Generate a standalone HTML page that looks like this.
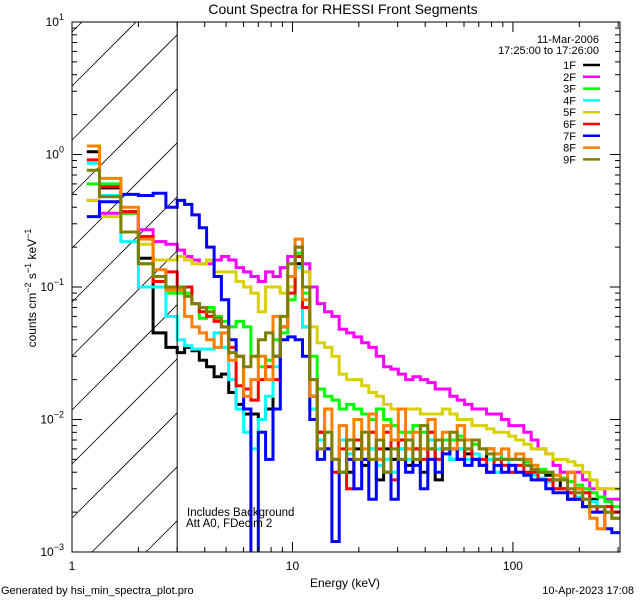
<!DOCTYPE html>
<html><head><meta charset="utf-8"><style>
html,body{margin:0;padding:0;background:#fff;width:640px;height:600px;overflow:hidden;}
svg{display:block;font-family:"Liberation Sans",sans-serif;}
text{fill:#000;}
</style></head><body>
<svg id="chart" width="640" height="600" viewBox="0 0 640 600" xmlns="http://www.w3.org/2000/svg">
<rect x="0" y="0" width="640" height="600" fill="#fff"/>
<text x="343" y="14" font-size="14" text-anchor="middle">Count Spectra for RHESSI Front Segments</text>
<defs><clipPath id="plotclip"><rect x="72" y="22" width="548" height="530"/></clipPath></defs>
<g id="hatch"></g>
<g id="series" clip-path="url(#plotclip)"></g>
<g id="axes"></g>
<text x="345" y="587" font-size="12" text-anchor="middle">Energy (keV)</text>
<text transform="translate(36,288) rotate(-90)" font-size="12" text-anchor="middle">counts cm<tspan dy="-5" font-size="9">−2</tspan><tspan dy="5"> s</tspan><tspan dy="-5" font-size="9">−1</tspan><tspan dy="5"> keV</tspan><tspan dy="-5" font-size="9">−1</tspan></text>
<text x="187" y="516" font-size="11.5">Includes Background</text>
<text x="186" y="527" font-size="11.5">Att A0, FDecim 2</text>
<text x="599" y="43" font-size="11" text-anchor="end">11-Mar-2006</text>
<text x="599" y="54" font-size="11" text-anchor="end">17:25:00 to 17:26:00</text>
<g id="legend"></g>
<text x="1" y="594" font-size="11">Generated by hsi_min_spectra_plot.pro</text>
<text x="634" y="594" font-size="11" text-anchor="end">10-Apr-2023 17:08</text>
</svg>
<script>
const energyEdges=[1.167,1.333,1.667,2,2.333,2.667,3,3.24,3.5,3.78,4.08,4.41,4.76,5.14,5.55,6.0,6.48,7.0,7.55,8.16,8.81,9.52,10.28,11.1,11.99,12.95,13.99,15.1,16.3,17.6,19.0,20.6,22.2,24.0,25.9,28.0,30.2,32.6,35.2,38.0,41.1,44.4,47.9,51.8,55.9,60.4,65.2,70.4,76.0,82.1,88.7,95.8,103,112,121,130,141,152,164,177,191,207,223,241,261,281,304];
const seriesNames=["1F","2F","3F","4F","5F","6F","7F","8F","9F"];
const seriesColors=["#000000","#ff00ff","#00ff00","#00ffff","#d8d000","#ff0000","#0000ff","#ff8000","#808000"];
const s1F=[1.05,0.56,0.37,0.165,0.045,0.035, 0.032,0.035,0.033,0.028,0.025,0.021,0.022,0.016,0.013,0.011,0.011,0.01,0.012,0.03,0.05,0.1,0.15,0.05,0.015,0.008,0.006,0.005,0.007,0.004,0.006,0.0045,0.006,0.0035,0.006,0.005,0.006,0.0045,0.006,0.004,0.006,0.0035,0.006,0.005,0.006,0.0055,0.005,0.0045,0.006,0.005,0.005,0.005,0.005,0.0045,0.0042,0.004,0.0038,0.0035,0.003,0.0025,0.003,0.0022,0.0025,0.0022,0.002,0.002];
const s2F=[0.45,0.36,0.36,0.27,0.22,0.21, 0.19,0.17,0.16,0.15,0.15,0.16,0.17,0.16,0.14,0.13,0.12,0.11,0.13,0.12,0.14,0.17,0.2,0.15,0.1,0.075,0.065,0.06,0.048,0.045,0.042,0.038,0.035,0.03,0.025,0.024,0.022,0.02,0.021,0.02,0.019,0.017,0.017,0.015,0.014,0.013,0.012,0.012,0.011,0.011,0.01,0.009,0.009,0.008,0.007,0.006,0.0055,0.0045,0.004,0.004,0.004,0.0035,0.003,0.003,0.0025,0.0025];
const s3F=[0.6,0.6,0.36,0.15,0.11,0.09, 0.09,0.09,0.075,0.058,0.07,0.06,0.055,0.05,0.055,0.05,0.03,0.025,0.028,0.04,0.045,0.08,0.18,0.09,0.03,0.017,0.015,0.014,0.012,0.013,0.012,0.011,0.01,0.012,0.01,0.009,0.008,0.008,0.009,0.008,0.008,0.007,0.007,0.007,0.0075,0.007,0.0065,0.006,0.006,0.0055,0.005,0.005,0.005,0.0048,0.0045,0.0042,0.004,0.0038,0.0036,0.0034,0.0032,0.003,0.0028,0.0026,0.0024,0.0022];
const s4F=[0.86,0.49,0.22,0.1,0.1,0.06, 0.04,0.036,0.034,0.034,0.034,0.045,0.035,0.02,0.012,0.008,0.006,0.01,0.015,0.025,0.06,0.1,0.14,0.05,0.012,0.007,0.008,0.005,0.007,0.0055,0.007,0.005,0.006,0.0045,0.005,0.004,0.006,0.005,0.006,0.005,0.007,0.006,0.006,0.005,0.006,0.005,0.0055,0.0045,0.005,0.004,0.005,0.0045,0.004,0.004,0.0038,0.0036,0.0034,0.003,0.003,0.0028,0.0026,0.0025,0.0024,0.0022,0.002,0.0018];
const s5F=[0.45,0.34,0.26,0.21,0.16,0.16, 0.17,0.16,0.15,0.15,0.16,0.13,0.13,0.13,0.11,0.1,0.09,0.065,0.1,0.1,0.09,0.1,0.2,0.13,0.05,0.038,0.035,0.03,0.022,0.02,0.02,0.018,0.016,0.015,0.013,0.012,0.012,0.012,0.012,0.011,0.011,0.011,0.012,0.011,0.01,0.01,0.009,0.009,0.0085,0.008,0.008,0.0075,0.007,0.0065,0.006,0.006,0.0055,0.005,0.005,0.0048,0.0045,0.004,0.0035,0.003,0.003,0.003];
const s6F=[0.91,0.57,0.37,0.24,0.11,0.13, 0.1,0.1,0.075,0.065,0.06,0.055,0.05,0.035,0.018,0.017,0.014,0.02,0.025,0.02,0.05,0.09,0.17,0.07,0.02,0.008,0.006,0.004,0.006,0.003,0.007,0.005,0.008,0.006,0.008,0.0035,0.007,0.006,0.006,0.005,0.008,0.005,0.006,0.006,0.005,0.006,0.005,0.005,0.004,0.005,0.0045,0.004,0.0045,0.004,0.004,0.0035,0.0035,0.003,0.003,0.0028,0.0025,0.0028,0.0022,0.002,0.0022,0.002];
const s7F=[0.34,0.44,0.5,0.49,0.51,0.4, 0.45,0.42,0.35,0.28,0.2,0.12,0.08,0.04,0.03,0.012,0.0005,0.008,0.005,0.012,0.04,0.042,0.04,0.03,0.01,0.005,0.006,0.0012,0.004,0.005,0.003,0.005,0.0025,0.005,0.004,0.0025,0.005,0.004,0.0045,0.003,0.005,0.004,0.0055,0.006,0.005,0.0045,0.005,0.0045,0.004,0.0045,0.004,0.0045,0.004,0.0038,0.0035,0.0035,0.003,0.0028,0.0028,0.0025,0.0025,0.0022,0.002,0.002,0.0015,0.0014];
const s8F=[1.16,0.66,0.4,0.23,0.135,0.095, 0.095,0.06,0.05,0.045,0.04,0.035,0.045,0.028,0.03,0.015,0.02,0.03,0.02,0.06,0.05,0.12,0.23,0.08,0.015,0.006,0.012,0.005,0.009,0.006,0.01,0.006,0.011,0.005,0.009,0.007,0.012,0.006,0.008,0.006,0.01,0.007,0.008,0.006,0.009,0.007,0.007,0.006,0.006,0.0055,0.006,0.005,0.0055,0.005,0.0045,0.004,0.004,0.0038,0.0035,0.004,0.003,0.0025,0.0018,0.0015,0.002,0.0018];
const s9F=[0.76,0.48,0.26,0.15,0.12,0.1, 0.1,0.085,0.075,0.07,0.065,0.058,0.05,0.032,0.03,0.025,0.03,0.04,0.045,0.03,0.06,0.15,0.2,0.1,0.02,0.006,0.008,0.005,0.004,0.007,0.005,0.008,0.005,0.007,0.004,0.006,0.005,0.007,0.005,0.009,0.006,0.007,0.006,0.008,0.007,0.006,0.007,0.006,0.0055,0.005,0.005,0.005,0.005,0.0045,0.0042,0.004,0.004,0.0035,0.0035,0.003,0.0028,0.0025,0.0022,0.0022,0.002,0.0018];
const seriesValues=[s1F,s2F,s3F,s4F,s5F,s6F,s7F,s8F,s9F];
const xTickLabels=["1","10","100"];
const yTickExponents=["1","0","−1","−2","−3"];

const NS="http://www.w3.org/2000/svg";
const L=72,R=620,T=22,B=552;
const xMin=1,xMax=306,yMin=1e-3,yMax=10;
function xScale(e){return L+(Math.log10(e)-Math.log10(xMin))/(Math.log10(xMax)-Math.log10(xMin))*(R-L);}
function yScale(v){v=Math.max(v,1e-5);return B-(Math.log10(v)-Math.log10(yMin))/(Math.log10(yMax)-Math.log10(yMin))*(B-T);}
function yClip(v){return Math.min(B,Math.max(T,yScale(v)));}
function mk(tag,attrs,parent){const el=document.createElementNS(NS,tag);for(const k in attrs)el.setAttribute(k,attrs[k]);parent.appendChild(el);return el;}

// hatch lines computed within box [L,HX]x[T,B]: y = c - (x - L)
const hatch=document.getElementById('hatch');
const HX=xScale(3);
for(let k=-2;k<12;k++){
  const c=86+54*k;
  let xa=L,ya=c,xb=HX,yb=c-(HX-L);
  if(ya>B){xa=L+(ya-B);ya=B;}
  if(yb<T){xb=L+(c-T);yb=T;}
  if(xa>=xb||ya<T||yb>B) continue;
  const ln=mk('line',{x1:xa.toFixed(1),y1:ya.toFixed(1),x2:xb.toFixed(1),y2:yb.toFixed(1),stroke:'#000','stroke-width':0.8},hatch);
  
  
}
const axes=document.getElementById('axes');
const bl=mk('line',{x1:HX,y1:T,x2:HX,y2:B,stroke:'#000','stroke-width':1},axes);



const sg=document.getElementById('series');
seriesValues.forEach((vals,i)=>{
  let d='';
  vals.forEach((v,j)=>{
    const x0=xScale(energyEdges[j]),x1=Math.min(R,xScale(energyEdges[j+1])),y=Math.min(B+3,yScale(v));
    d+=(j===0?'M':'L')+x0.toFixed(1)+','+y.toFixed(1)+'L'+x1.toFixed(1)+','+y.toFixed(1);
  });
  const p=mk('path',{d:d,fill:'none',stroke:seriesColors[i],'stroke-width':3,'stroke-linejoin':'miter'},sg);
  
  
});

const fr=mk('rect',{x:L,y:T,width:R-L,height:B-T,fill:'none',stroke:'#000','stroke-width':1},axes);


for(let dec=0;dec<3;dec++){
  for(let m=1;m<10;m++){
    const e=Math.pow(10,dec)*m; if(e>xMax) continue;
    const x=xScale(e),len=m===1?10:5;
    const t1=mk('line',{x1:x,y1:B,x2:x,y2:B-len,stroke:'#000','stroke-width':1},axes);
    
    
    const t2=mk('line',{x1:x,y1:T,x2:x,y2:T+len,stroke:'#000','stroke-width':1},axes);
    
    
  }
  const lb=mk('text',{x:xScale(Math.pow(10,dec)),y:570,'font-size':12,'text-anchor':'middle'},axes);
  lb.textContent=xTickLabels[dec];
  
  
}
for(let i=0;i<yTickExponents.length;i++){
  const p=1-i;
  const y=yScale(Math.pow(10,p));
  for(let m=1;m<10;m++){
    if(p===1&&m>1) continue;
    const v=Math.pow(10,p)*m;
    const yy=yScale(v),len=m===1?10:5;
    const t1=mk('line',{x1:L,y1:yy,x2:L+len,y2:yy,stroke:'#000','stroke-width':1},axes);
    
    
    const t2=mk('line',{x1:R,y1:yy,x2:R-len,y2:yy,stroke:'#000','stroke-width':1},axes);
    
    
  }
  const lb=mk('text',{x:64,y:y+4,'font-size':12,'text-anchor':'end'},axes);
  
  
  const base=mk('tspan',{},lb); base.textContent='10';
  const ex=mk('tspan',{dy:-6,'font-size':9},lb); ex.textContent=yTickExponents[i];
}
const lg=document.getElementById('legend');
seriesNames.forEach((n,i)=>{
  const y=65+i*11.8;
  const g=mk('g',{},lg);
  
  
  const t=mk('text',{x:576,y:y+4,'font-size':11,'text-anchor':'end'},g);
  t.textContent=n;
  mk('line',{x1:583,y1:y,x2:600,y2:y,stroke:seriesColors[i],'stroke-width':2.5},g);
});
</script>
</body></html>
